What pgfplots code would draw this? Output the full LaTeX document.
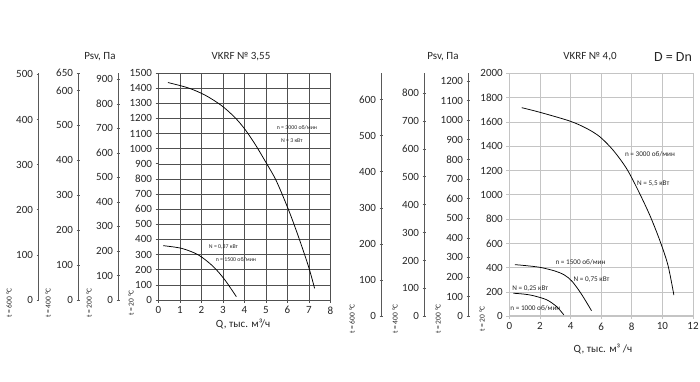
\documentclass[border=0pt]{standalone}
\usepackage{fontspec}
\setmainfont{Carlito}
\usepackage{pgfplots}
\pgfplotsset{compat=1.18}
\definecolor{ax}{HTML}{595959}
\definecolor{txt}{HTML}{262626}
\definecolor{gridL}{HTML}{505050}
\definecolor{gridR}{HTML}{C4C4C4}
\pgfplotsset{
  base/.style={scale only axis, anchor=south west,
    /pgf/number format/assume math mode=true,
    /pgf/number format/1000 sep={},
    tick label style={font=\fontsize{11}{12}\selectfont, text=txt},
    tick align=outside, major tick length=3pt},
  sec/.style={base, width=1pt, xmin=0, xmax=1, ymin=0,
    axis x line=none, axis y line=left,
    axis line style={ax, line width=0.6pt, -}, ytick style={ax, line width=0.6pt}},
  curve/.style={black, line width=0.75pt, smooth, tension=0.5, no markers},
}
\newcommand\ann{\fontsize{5.8}{6.5}\selectfont}
\newcommand\annR{\fontsize{7.2}{8}\selectfont}
\newcommand\tl{\fontsize{7.5}{8}\selectfont}
\begin{document}
\begin{tikzpicture}[x=1pt,y=1pt]
\path[use as bounding box] (0,0) rectangle (700,382);
% ---------- left chart: secondary scales ----------
\begin{axis}[sec, at={(38pt,82pt)}, height=227pt, ymax=503, ytick={0,100,...,500}]
\end{axis}
\begin{axis}[sec, at={(78pt,82pt)}, height=227pt, ymax=650, ytick={0,100,...,600,650}]
\end{axis}
\begin{axis}[sec, at={(118pt,82pt)}, height=227pt, ymax=926, ytick={0,100,...,900}]
\end{axis}
% ---------- left chart: main ----------
\begin{axis}[base, at={(158.5pt,82pt)}, width=172pt, height=227pt,
  xmin=0, xmax=8, ymin=0, ymax=1500,
  xtick={0,...,8}, ytick={0,100,...,1500},
  grid=major, grid style={gridL, line width=0.5pt},
  axis line style={gridL, line width=0.6pt}, tick style={gridL, line width=0.6pt},
  tick pos=left, clip=false]
\addplot[curve] coordinates {(0.44,1437) (1.37,1402) (2.15,1355) (2.93,1285) (3.56,1205) (4.02,1128) (4.49,1030) (4.96,918) (5.47,790) (6.05,595) (6.51,418) (6.98,220) (7.26,77)};
\addplot[curve] coordinates {(0.22,359) (1.08,341) (1.85,298) (2.54,222) (3.08,134) (3.62,22)};
\node[font=\ann, text=txt] at (axis cs:6.44,1139) {n = 3000 об/мин};
\node[font=\ann, text=txt] at (axis cs:6.2,1050) {N = 3 кВт};
\node[font=\ann, text=txt] at (axis cs:3.02,352) {N = 0,37 кВт};
\node[font=\ann, text=txt] at (axis cs:3.6,264) {n = 1500 об/мин};
\end{axis}
% ---------- right chart: secondary scales ----------
\begin{axis}[sec, at={(381pt,65.7pt)}, height=243pt, ymax=672, ytick={0,100,...,600}]
\end{axis}
\begin{axis}[sec, at={(424pt,65.7pt)}, height=243pt, ymax=871, ytick={0,100,...,800}]
\end{axis}
\begin{axis}[sec, at={(468pt,65.7pt)}, height=243pt, ymax=1239, ytick={0,100,...,1200}]
\end{axis}
% ---------- right chart: main ----------
\begin{axis}[base, at={(509.3pt,65.7pt)}, width=183.7pt, height=243pt,
  xmin=0, xmax=12, ymin=0, ymax=2000,
  xtick={0,2,...,12}, ytick={0,200,...,2000},
  grid=major, grid style={gridR, line width=0.7pt},
  axis line style={gridR, line width=0.7pt}, tick style={gridR, line width=0.7pt},
  tick pos=left, clip=false]
\draw[gridR, line width=2pt] (axis cs:0,0) -- (axis cs:12,0);
\addplot[curve] coordinates {(0.81,1717) (2.0,1679) (3.95,1607) (5.04,1547) (5.91,1478) (6.77,1369) (7.65,1218) (8.4,1040) (9.17,834) (9.82,628) (10.36,422) (10.75,175)};
\addplot[curve] coordinates {(0.37,425) (1,418) (2,403) (3,372) (3.6,340) (4.1,288) (4.7,185) (5.37,46)};
\addplot[curve] coordinates {(0.26,190) (1,182) (1.56,170) (2.44,136) (3.09,80) (3.56,12)};
\node[font=\annR, text=txt] at (axis cs:9.19,1333) {n = 3000 об/мин};
\node[font=\annR, text=txt] at (axis cs:9.4,1095) {N = 5,5 кВт};
\node[font=\annR, text=txt] at (axis cs:4.65,449) {n = 1500 об/мин};
\node[font=\annR, text=txt] at (axis cs:5.37,304) {N = 0,75 кВт};
\node[font=\annR, text=txt] at (axis cs:1.37,230) {N = 0,25 кВт};
\node[font=\annR, text=txt] at (axis cs:1.7,66) {n = 1000 об/мин};
\end{axis}
% ---------- texts ----------
\begin{scope}[every node/.style={text=txt, inner sep=0pt}]
\node[font=\fontsize{11}{12}\selectfont] at (100,325) {Psv, Па};
\node[font=\fontsize{11}{12}\selectfont] at (241,325) {VKRF № 3,55};
\node[font=\fontsize{11}{12}\selectfont] at (443,325) {Psv, Па};
\node[font=\fontsize{11}{12}\selectfont] at (590,325) {VKRF № 4,0};
\node[font=\fontsize{14}{15}\selectfont] at (673,325) {D = Dn};
\node[font=\fontsize{11}{12}\selectfont] at (243,58) {Q, тыс. м³/ч};
\node[font=\fontsize{11}{12}\selectfont] at (603,33) {Q, тыс. м³ /ч};
\node[font=\tl, rotate=90] at (9,79) {t = 600 °C};
\node[font=\tl, rotate=90] at (48,79) {t = 400 °C};
\node[font=\tl, rotate=90] at (89,79) {t = 200 °C};
\node[font=\tl, rotate=90] at (131,79) {t = 20 °C};
\node[font=\tl, rotate=90] at (352,63) {t = 600 °C};
\node[font=\tl, rotate=90] at (395,63) {t = 400 °C};
\node[font=\tl, rotate=90] at (438,63) {t = 200 °C};
\node[font=\tl, rotate=90] at (482,63) {t = 20 °C};
\end{scope}
\end{tikzpicture}
\end{document}
